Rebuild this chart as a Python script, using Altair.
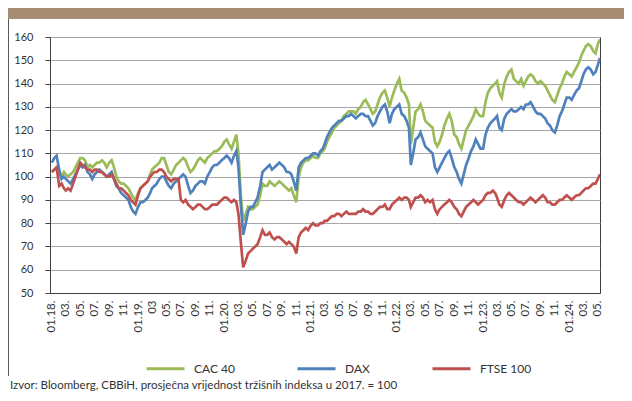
import altair as alt
import pandas as pd

series_names = ["CAC 40", "DAX", "FTSE 100"]
series_colors = ["#9BBB59", "#4F81BD", "#C0504D"]

tick_labels = [
    "01.18.", "03.", "05.", "07.", "09.", "11.",
    "01.19.", "03", "05.", "07.", "09.", "11.",
    "01.20.", "03.", "05.", "07.", "09.", "11.",
    "01.21.", "03.", "05.", "07.", "09.", "11.",
    "01.22.", "03.", "05.", "07.", "09.", "11.",
    "01.23.", "03.", "05.", "07.", "09.", "11.",
    "01.24.", "03.", "05.",
]

source_text = "Izvor: Bloomberg, CBBiH, prosječna vrijednost tržišnih indeksa u 2017. = 100"

# sampling dates: 1st, 11th, 21st of each month, Jan 2018 .. Apr 2024, then May 2024
dates = []
for yr in range(2018, 2025):
    for mo in range(1, 13):
        if (yr, mo) > (2024, 4):
            break
        for dd in (1, 11, 21):
            dates.append(pd.Timestamp(yr, mo, dd))
dates += [pd.Timestamp(2024, 5, 1), pd.Timestamp(2024, 5, 10)]

cac = (
    [102,103,104, 101,100,102, 101,100,101, 102,104,106, 108,108,107, 104,105,104,
     105,106,106, 107,106,104, 106,107,104, 100,98,97, 97,96,95, 93,91,90]
    + [93,95,96, 97,98,101, 103,104,105, 106,108,108, 105,102,101, 103,105,106,
       107,108,107, 104,102,103, 105,107,108, 107,106,108, 109,110,111, 111,112,113]
    + [115,116,114, 112,115,118, 110,92,81, 84,87,86, 86,87,88, 92,97,96,
       96,98,97, 96,97,98, 97,96,95, 94,95,92, 89,100,104, 106,107,107]
    + [108,109,108, 108,110,111, 112,115,117, 119,121,122, 123,124,126, 127,128,128,
       128,127,129, 130,132,133, 131,129,127, 128,131,134, 136,137,134, 130,134,137]
    + [140,142,137, 136,134,131, 114,121,128, 129,131,128, 124,123,122, 121,115,113,
       115,118,122, 125,127,124, 118,117,114, 112,116,120, 122,124,126, 129,127,126]
    + [126,132,136, 138,139,140, 141,136,134, 140,143,145, 146,142,141, 140,142,139,
       141,143,144, 143,141,140, 141,140,139, 137,135,133, 132,135,138, 140,143,145]
    + [144,143,145, 147,149,152, 154,156,157, 156,154,153, 157,159]
)

dax = (
    [106,108,109, 103,99,100, 99,98,97, 99,101,103, 105,104,105, 102,101,99,
     101,102,103, 102,101,100, 101,102,99, 96,95,93, 92,91,90, 87,85,84]
    + [87,89,89, 90,91,93, 95,96,97, 99,100,100, 98,96,95, 97,98,99,
       100,101,100, 96,93,94, 96,97,98, 98,97,100, 102,104,105, 105,106,107]
    + [108,109,108, 106,109,111, 104,88,75, 80,85,87, 87,89,91, 96,102,103,
       104,105,103, 104,105,106, 105,104,102, 102,101,98, 94,104,106, 107,108,108]
    + [109,110,110, 109,111,112, 114,117,119, 121,122,123, 124,124,125, 126,126,127,
       126,125,126, 127,127,126, 126,124,122, 123,126,128, 130,131,128, 123,127,129]
    + [130,131,127, 126,124,121, 105,110,116, 117,119,116, 113,112,111, 110,104,102,
       104,106,108, 110,111,108, 104,102,99, 97,101,105, 108,111,113, 116,114,112]
    + [112,118,121, 123,124,125, 126,121,120, 125,127,128, 129,128,128, 129,130,129,
       131,131,132, 130,128,127, 127,126,125, 123,122,120, 119,122,126, 128,131,134]
    + [134,133,135, 137,138,141, 144,146,147, 146,144,145, 148,151]
)

ftse = (
    [102,103,104, 96,97,95, 94,95,94, 97,100,103, 106,105,104, 103,103,102,
     103,103,102, 102,101,100, 100,101,99, 97,95,95, 94,93,92, 90,89,88]
    + [92,95,96, 97,98,100, 101,102,102, 103,103,102, 100,99,98, 99,99,99,
       90,89,90, 88,87,86, 87,88,88, 87,86,86, 87,88,88, 88,89,90]
    + [91,91,90, 89,90,89, 84,72,61, 64,67,68, 69,70,71, 74,77,75,
       75,76,74, 73,74,74, 73,72,71, 72,71,70, 67,74,76, 77,78,77]
    + [79,80,79, 79,80,80, 81,81,82, 83,83,84, 84,83,84, 85,84,84,
       84,84,85, 85,86,85, 85,84,84, 85,86,87, 87,88,86, 86,88,89]
    + [90,91,90, 91,91,90, 87,89,91, 91,92,91, 89,90,89, 90,86,84,
       86,87,88, 89,90,89, 87,86,84, 83,85,87, 88,89,90, 89,88,89]
    + [90,92,93, 93,94,93, 91,88,87, 90,92,93, 92,91,90, 89,89,88,
       89,90,91, 90,89,90, 91,92,91, 89,89,88, 88,89,90, 90,91,92]
    + [91,90,91, 92,92,93, 94,95,95, 96,97,97, 99,101]
)

rows = []
for name, vals in zip(series_names, [cac, dax, ftse]):
    for d, v in zip(dates, vals):
        rows.append({"date": d, "value": v, "series": name})
df = pd.DataFrame(rows)

FONT = "Lato"
TXT = "#333333"

label_expr = "[" + ",".join("'" + t + "'" for t in tick_labels) + "]" \
    "[(year(datum.value)-2018)*6 + floor(month(datum.value)/2)]"

tick_values = []
for yr in range(2018, 2025):
    for mo in (1, 3, 5, 7, 9, 11):
        if (yr, mo) > (2024, 5):
            break
        tick_values.append(alt.DateTime(year=yr, month=mo, date=1))

x_enc = alt.X(
    "date:T",
    scale=alt.Scale(domain=[alt.DateTime(year=2017, month=12, date=24),
                            alt.DateTime(year=2024, month=5, date=10)], nice=False),
    axis=alt.Axis(values=tick_values, labelExpr=label_expr, title=None, labelAngle=-90,
                  ticks=False, labelPadding=7, grid=False, domainColor="#404040",
                  labelFont=FONT, labelFontSize=11.5, labelColor=TXT, labelOverlap=False),
)
y_enc = alt.Y(
    "value:Q",
    scale=alt.Scale(domain=[50, 160], nice=False, zero=False),
    axis=alt.Axis(values=list(range(50, 161, 10)), title=None, tickSize=5, labelPadding=12,
                  gridColor="#A6A6A6", tickColor="#404040", domainColor="#404040",
                  labelFont=FONT, labelFontSize=11, labelColor=TXT),
)
color_enc = alt.Color(
    "series:N",
    scale=alt.Scale(domain=series_names, range=series_colors),
    legend=alt.Legend(title=None, orient="none", legendX=95, legendY=311,
                      direction="horizontal", symbolType="stroke", symbolSize=1444,
                      symbolStrokeWidth=3, labelFont=FONT, labelFontSize=12,
                      labelColor=TXT, labelOffset=8, columnPadding=56),
)

line_layers = []
for name in series_names:
    line_layers.append(
        alt.Chart(df).transform_filter(alt.datum.series == name)
        .mark_line(strokeWidth=2.7, clip=True)
        .encode(x=x_enc, y=y_enc, color=color_enc)
    )

one = pd.DataFrame({"t": [source_text]})
band = alt.Chart(one).mark_rect(color="#A58C73").encode(
    x=alt.value(-42), x2=alt.value(574), y=alt.value(-29), y2=alt.value(-18))
left_rule = alt.Chart(one).mark_rule(color="#595959", strokeWidth=1).encode(
    x=alt.value(-41.5), y=alt.value(-18), y2=alt.value(339))
source = alt.Chart(one).mark_text(align="left", baseline="middle", font=FONT,
                                  fontSize=11.5, color=TXT).encode(
    x=alt.value(-40), y=alt.value(349), text="t:N")

chart = alt.layer(band, left_rule, *line_layers, source).properties(
    width=550, height=256,
    padding={"left": 42, "top": 29, "right": 24, "bottom": 100},
    autosize=alt.AutoSizeParams(type="none"),
).configure_view(stroke="#404040", strokeWidth=1)

chart.save("out.html", embed_options={"renderer": "svg", "actions": False})
